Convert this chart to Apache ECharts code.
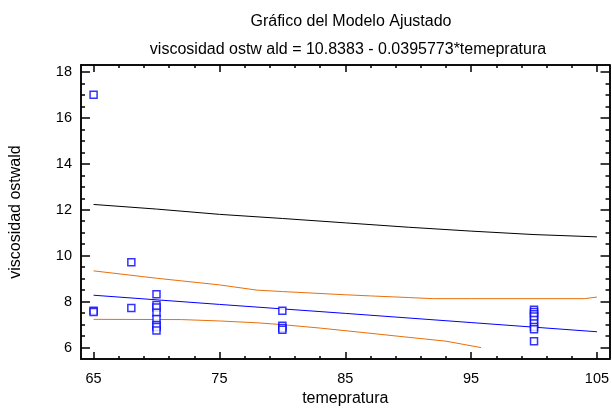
<!DOCTYPE html>
<html>
<head>
<meta charset="utf-8">
<script src="https://cdn.jsdelivr.net/npm/echarts@6/dist/echarts.min.js"></script>
<style>html,body{margin:0;padding:0;background:#fff}#c{width:612px;height:412px}</style>
</head>
<body>
<div id="c"></div>
<script>
// Observations
const obsTemp = [65, 65, 65, 68, 68, 70, 70, 70, 70, 70, 70, 70, 70, 80, 80, 80, 80, 100, 100, 100, 100, 100, 100, 100, 100, 100];
const obsVisc = [17.0, 7.6, 7.55, 9.72, 7.72, 8.32, 7.85, 7.75, 7.52, 7.25, 6.98, 6.9, 6.75, 7.6, 6.95, 6.85, 6.78, 7.65, 7.55, 7.45, 7.35, 7.2, 7.05, 6.9, 6.8, 6.28];
// Fitted line
const fitTemp = [65, 75, 85, 95, 105];
const fitVisc = [8.28, 7.88, 7.49, 7.09, 6.69];
// Upper limit (black)
const upperPredTemp = [65, 70, 75, 80, 85, 90, 95, 100, 105];
const upperPredVisc = [12.23, 12.03, 11.80, 11.62, 11.43, 11.24, 11.07, 10.92, 10.82];
// Upper orange
const upperConfTemp = [65, 70, 75, 78, 80, 85, 87, 90, 92, 95, 100, 104, 105];
const upperConfVisc = [9.34, 9.02, 8.73, 8.50, 8.44, 8.30, 8.25, 8.18, 8.13, 8.13, 8.13, 8.13, 8.20];
// Lower orange
const lowerConfTemp = [65, 72, 75, 78, 80, 83, 86, 90, 93, 95.8];
const lowerConfVisc = [7.23, 7.22, 7.16, 7.08, 7.0, 6.85, 6.68, 6.45, 6.28, 6.0];
// Ticks
const xMajor = [65, 75, 85, 95, 105];
const xMinor = [67, 69, 71, 73, 77, 79, 81, 83, 87, 89, 91, 93, 97, 99, 101, 103];
const yMajor = [6, 8, 10, 12, 14, 16, 18];
const yMinor = [6.5, 7, 7.5, 8.5, 9, 9.5, 10.5, 11, 11.5, 12.5, 13, 13.5, 14.5, 15, 15.5, 16.5, 17, 17.5];

const pairs = (xs, ys) => xs.map((x, i) => [x, ys[i]]);
const FONT = 'Liberation Sans, Arial, sans-serif';
const X_MIN = 64, X_MAX = 106, Y_MIN = 5.5, Y_MAX = 18.3;

function xAx(pos, ticks, len, labels, extra) {
  return Object.assign({
    type: 'value', position: pos, min: X_MIN, max: X_MAX,
    axisLine: { show: true, onZero: false, lineStyle: { color: '#000', width: 1.5 } },
    axisTick: { show: true, inside: true, length: len, customValues: ticks, lineStyle: { color: '#000', width: 1.5 } },
    axisLabel: labels ? { show: true, customValues: ticks, color: '#000', fontSize: 14.5, fontFamily: FONT, margin: 12 } : { show: false },
    splitLine: { show: false }
  }, extra || {});
}
function yAx(pos, ticks, len, labels, extra) {
  return Object.assign({
    type: 'value', position: pos, min: Y_MIN, max: Y_MAX,
    axisLine: { show: true, onZero: false, lineStyle: { color: '#000', width: 1.5 } },
    axisTick: { show: true, inside: true, length: len, customValues: ticks, lineStyle: { color: '#000', width: 1.5 } },
    axisLabel: labels ? { show: true, customValues: ticks, color: '#000', fontSize: 14.5, fontFamily: FONT, margin: 9 } : { show: false },
    splitLine: { show: false }
  }, extra || {});
}

const chart = echarts.init(document.getElementById('c'), null, { renderer: 'canvas' });
const lineBase = { type: 'line', showSymbol: false, symbol: 'none', silent: true, z: 3 };
chart.setOption({
  animation: false,
  backgroundColor: '#fff',
  title: [
    { text: 'Gráfico del Modelo Ajustado', left: 346, top: 9, textAlign: 'center',
      textStyle: { fontSize: 16, fontWeight: 'normal', color: '#000', fontFamily: FONT } },
    { text: 'viscosidad ostw ald = 10.8383 - 0.0395773*temepratura', left: 343, top: 37, textAlign: 'center',
      textStyle: { fontSize: 16, fontWeight: 'normal', color: '#000', fontFamily: FONT } }
  ],
  grid: { left: 79, right: 1, top: 65, bottom: 49, containLabel: false },
  xAxis: [
    xAx('bottom', xMajor, 7, true, { name: 'temepratura', nameLocation: 'middle', nameGap: 30,
      nameTextStyle: { color: '#000', fontSize: 16, fontFamily: FONT } }),
    xAx('bottom', xMinor, 3, false),
    xAx('top', xMajor, 7, false),
    xAx('top', xMinor, 3, false)
  ],
  yAxis: [
    yAx('left', yMajor, 9, true, { name: 'viscosidad ostwald', nameLocation: 'middle', nameGap: 57,
      nameTextStyle: { color: '#000', fontSize: 16, fontFamily: FONT } }),
    yAx('left', yMinor, 4, false),
    yAx('right', yMajor, 9, false),
    yAx('right', yMinor, 4, false)
  ],
  series: [
    Object.assign({}, lineBase, { data: pairs(upperPredTemp, upperPredVisc), lineStyle: { color: '#000000', width: 1 } }),
    Object.assign({}, lineBase, { data: pairs(upperConfTemp, upperConfVisc), lineStyle: { color: '#e8700a', width: 1 } }),
    Object.assign({}, lineBase, { data: pairs(lowerConfTemp, lowerConfVisc), lineStyle: { color: '#e8700a', width: 1 } }),
    Object.assign({}, lineBase, { data: pairs(fitTemp, fitVisc), lineStyle: { color: '#0000ff', width: 1 } }),
    { type: 'scatter', data: pairs(obsTemp, obsVisc), symbol: 'rect', symbolSize: 7, z: 4,
      itemStyle: { color: '#fff', borderColor: '#0000ff', borderWidth: 1.5 } }
  ]
});
</script>
</body>
</html>
